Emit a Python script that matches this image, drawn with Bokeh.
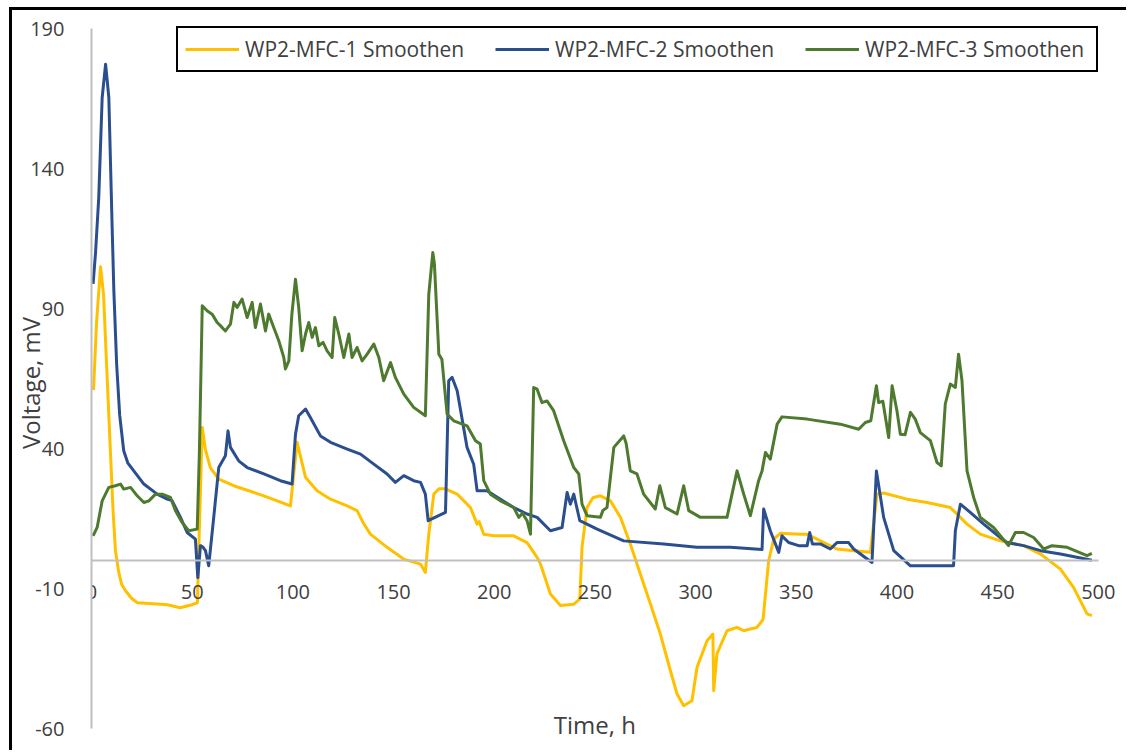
from bokeh.plotting import figure
from bokeh.models import Range1d, FixedTicker, Label, Legend, LegendItem, LinearAxis
from bokeh.embed import file_html
from bokeh.resources import INLINE

# ---------------- data ----------------
t1 = [1, 2.5, 4.5, 6, 7.5, 9.4, 10.7, 11.9, 13.5, 15, 16.9, 20, 22.8, 30.8, 37.7, 44, 50, 52.6,
      53.5, 55, 56.5, 59, 63.2, 70.6, 85.6, 98.8, 102.1, 106.3, 112, 118.7, 127, 131.9, 135,
      138.5, 146.8, 155, 163.4, 165.8, 167.5, 168.3, 170, 172.5, 175.8, 181.6, 188.2, 191.5,
      192.5, 194.8, 199.7, 209.7, 216.3, 221.3, 223, 227.9, 232.9, 239.5, 242.5, 243.6, 246.1,
      249, 252.7, 257.7, 262.7, 267.6, 272.6, 277.6, 282.5, 287.5, 290.8, 294.1, 298.2, 300.7,
      305.7, 308.6, 309, 310.6, 315.6, 320.6, 323.9, 330.5, 333.5, 334.7, 336.3, 338.8, 342.1,
      352, 355.4, 362, 370.2, 378.5, 386.8, 390.1, 393.4, 405, 414.9, 426.5, 429, 434.8, 441.4,
      451.3, 462.9, 471.3, 481.2, 487.7, 494.4, 496.8]
v1 = [61, 85, 105, 95, 70, 39, 18, 3.6, -4, -8.5, -10.7, -13.5, -15, -15.4, -15.7, -16.8, -15.7, -15,
      10, 47.6, 40, 33.3, 29.2, 26.8, 23.2, 19.6, 42.3, 29.8, 25, 22, 19.6, 17.9, 13.5,
      9.5, 4.8, 0.6, -1.2, -4.2, 9.5, 14, 23.8, 25.7, 25.7, 23.8, 19, 13.1,
      14, 9.5, 8.9, 8.9, 6.5, 1.2, -1.2, -11.9, -16, -15.5, -13.7, 4.8, 19,
      22.5, 23.2, 21.4, 15.5, 6, -4.8, -15.5, -26.2, -39.3, -47.6, -51.8, -50, -38.1,
      -28.6, -26.2, -46.4, -33.3, -25, -23.8, -25, -23.8, -21, -12, 0, 7.7, 9.8,
      9.5, 9.5, 7.1, 4.2, 3.6, 3, 23.8, 24.2, 22, 20.8, 19, 17.3, 13.1, 9.5,
      7.1, 5.4, 2.4, -3, -9.5, -19, -19.6]

t2 = [0.8, 2, 3.6, 5.3, 7, 8.6, 10.3, 11.1, 12.5, 14, 16, 18, 21, 26, 32.6, 37.6, 40, 44.2, 47.5,
      51.6, 52.8, 54.1, 55.4, 56.6, 58.2, 60.7, 63.2, 66.5, 67.8, 69, 73.1, 77.3, 85.6, 93.8,
      99.6, 101.3, 102.9, 106.3, 108.7, 113.7, 118.7, 127, 133.6, 140.2, 146.8, 150.9, 155.1,
      160, 163.4, 165.8, 167.2, 172.4, 175.8, 177.4, 179.1, 181.6, 186.5, 189.8, 191.5, 196.4,
      209.7, 216.3, 221.3, 227.9, 233.7, 236.2, 237.8, 239.5, 242.5, 251.1, 264.3, 284.2, 300.7,
      317.3, 333, 333.8, 337.1, 341.3, 342.9, 346.2, 351.2, 355.4, 356.7, 358, 362, 366.9, 370.2,
      376, 378.5, 387.6, 389.8, 393.4, 398.4, 406.7, 414.9, 428.1, 429, 431.5, 436.4, 443.1,
      451.3, 454.6, 462.9, 471.3, 481.2, 496.8]
v2 = [98.9, 110, 129.7, 165.5, 177.4, 165.5, 117.9, 96.4, 70, 52, 39.3, 35, 32.1, 27.4, 23.8, 22, 21.5, 15.5, 10.1,
      7.7, -6, 5.4, 4.8, 3.6, -1.8, 15.5, 33.3, 37.5, 46.4, 40.5, 35.7, 33.3, 31, 28.6,
      27.4, 45.2, 51.8, 54.2, 51.2, 44.6, 42.3, 39.9, 38.1, 34.5, 31, 28, 30.4,
      28.6, 28, 23.8, 14.3, 16.1, 17.3, 64.3, 65.5, 60.7, 40.5, 34.5, 25, 25,
      19, 16.7, 15.5, 10.7, 11.9, 24.4, 20.2, 23.8, 14.3, 11.3, 7.1, 6, 4.8,
      4.8, 4, 18.5, 10.7, 3, 8.9, 6.5, 5.4, 5.4, 10.1, 6, 6, 4.2, 6.5,
      6.5, 4.2, -0.6, 32.1, 15.5, 3.6, -1.8, -1.8, -1.8, 10.7, 20.2, 17.3, 13.1,
      8.3, 6.5, 5.4, 3.6, 2.4, 0.2]

t3 = [0.8, 2.8, 5.3, 8.6, 11.9, 14.4, 16, 19.4, 22.7, 26, 28.5, 31.8, 35.1, 39.2, 41.7, 45, 48.3,
      52.5, 53.6, 55, 57.4, 59.9, 62.4, 64, 66.5, 69, 70.7, 72.3, 74.8, 77.3, 79.8, 81.4, 83.9,
      86.4, 88, 90.5, 93, 95.5, 96.3, 98, 99.5, 101.3, 102.9, 104.6, 106.3, 107.9, 109.6, 111.2,
      112.9, 115, 117, 119.5, 120.8, 122.8, 125.3, 127.8, 129.4, 131.9, 134.4, 136.9, 140.2,
      142.7, 145.1, 148.5, 150.9, 155.1, 160, 165.8, 167.5, 169.5, 170.3, 172.5, 174, 176.6,
      179.9, 186.5, 190.7, 193.1, 194.8, 198.1, 203.1, 209.7, 212.2, 214, 216.3, 218, 219.6,
      221.3, 223.7, 226.2, 229.5, 234.5, 239.5, 242, 243.6, 246.1, 252.7, 254, 256, 259.4,
      264.3, 265.5, 267.6, 270.9, 274.2, 280, 282.2, 285, 290.8, 294.1, 296.6, 302.4, 315.6,
      320.6, 323.9, 327.2, 331.3, 333, 334.7, 337.1, 340.5, 342.9, 355.4, 371.9, 381, 384.3,
      387, 389.8, 390.9, 393, 395.9, 397.6, 400, 401.7, 404, 406.7, 409.1, 411.6, 416.6, 419.9,
      422, 424, 426.5, 429, 430.6, 432.3, 434.8, 438.1, 441.4, 448, 455.4, 458.8, 462.9, 467.9,
      472.9, 477, 484.5, 494.4, 496.8]
v3 = [8.9, 11.9, 21.4, 26.2, 26.8, 27.4, 25.6, 26.2, 23.2, 20.8, 21.4, 23.8, 23.8, 22.6, 17.9, 13.7, 10.7,
      11.3, 39.3, 91.1, 89.3, 88.1, 85.1, 84, 82.1, 84.5, 92.3, 90.5, 93.5, 86.9, 92.3, 83.3, 91.7,
      82.1, 88.1, 83.3, 78.6, 72.6, 68.5, 71.4, 88, 100.6, 90.5, 75, 81, 85.1, 79.8, 83.3,
      76.8, 78, 75, 72.6, 86.9, 81, 72.6, 81, 72.6, 76.2, 71.4, 73.8, 77.4,
      72.6, 64.3, 70.8, 65.5, 59.5, 54.8, 51.8, 95.2, 110.1, 106, 73.8, 72, 52.4,
      50, 48.2, 42.9, 41.7, 28.6, 23.8, 21.4, 19, 15.5, 17, 14.3, 9.5, 61.9,
      61.3, 56.5, 57.1, 53.6, 42.9, 33.3, 31, 20.2, 16.1, 15.5, 18, 19, 40.5,
      44.6, 42, 32.1, 31, 23.8, 18.5, 26.8, 19, 16.7, 26.8, 17.9, 15.5, 15.5,
      32.1, 23.8, 16.1, 28.6, 32.1, 38.7, 36.3, 48.8, 51.4, 50.6, 48.8, 47, 49.4,
      50, 62.5, 56.5, 57, 44, 62.5, 53.6, 45.2, 45, 53, 50.6, 45.8, 42.9, 35.1,
      33.9, 56, 63.1, 61.9, 73.8, 64.3, 32.1, 22.6, 15.5, 11.9, 5.4, 10.1, 10.1, 8.3,
      4.2, 5.4, 4.8, 1.8, 2.6]

series_names = ["WP2-MFC-1 Smoothen", "WP2-MFC-2 Smoothen", "WP2-MFC-3 Smoothen"]
series_colors = ["#FFC000", "#2B4F8E", "#4E7A2F"]
x_ticks = [0, 50, 100, 150, 200, 250, 300, 350, 400, 450, 500]
y_ticks = [-60, -10, 40, 90, 140, 190]

FONT = "Open Sans"
TXT = "#404040"
AXIS_GRAY = "#BFBFBF"

# axes span: y 190 -> 28 px, y -60 -> 728 px, x 0 -> 91 px, x 500 -> 1098 px
p = figure(width=1126, height=750, output_backend="svg", toolbar_location=None,
           x_range=Range1d(0, 514), y_range=Range1d(-66, 193),
           x_axis_location=None, y_axis_location="left",
           min_border_left=91, min_border_right=0, min_border_top=20, min_border_bottom=5)
p.outline_line_color = None
p.border_fill_color = None
p.background_fill_color = "white"
p.xgrid.visible = False
p.ygrid.visible = False
p.styles = {"box-shadow": "inset 9px 7px 0 0 white, inset 12px 10px 0 0 black"}

# y axis
ya = p.yaxis[0]
ya.ticker = FixedTicker(ticks=y_ticks)
ya.bounds = (-60, 190)
ya.major_label_overrides = {t: str(t) for t in y_ticks}
ya.axis_line_color = AXIS_GRAY
ya.axis_line_width = 2
ya.major_tick_line_color = None
ya.minor_tick_line_color = None
ya.major_label_standoff = 21
ya.major_label_text_font = FONT
ya.major_label_text_font_size = "20px"
ya.major_label_text_color = TXT
ya.axis_label = "Voltage, mV"
ya.axis_label_text_font = FONT
ya.axis_label_text_font_size = "24px"
ya.axis_label_text_font_style = "normal"
ya.axis_label_text_color = TXT
ya.axis_label_standoff = -20

# x axis crossing at y = 0
xa = LinearAxis(fixed_location=0, ticker=FixedTicker(ticks=x_ticks), bounds=(0, 500))
xa.axis_line_color = AXIS_GRAY
xa.axis_line_width = 2
xa.major_tick_line_color = None
xa.minor_tick_line_color = None
xa.major_label_standoff = 18
xa.major_label_text_font = FONT
xa.major_label_text_font_size = "20px"
xa.major_label_text_color = TXT
p.add_layout(xa, "below")

renderers = []
for tt, vv, c in zip([t1, t2, t3], [v1, v2, v3], series_colors):
    r = p.line(tt, vv, line_color=c, line_width=3, line_join="round")
    renderers.append(r)

legend = Legend(items=[LegendItem(label=n, renderers=[r]) for n, r in zip(series_names, renderers)],
                orientation="horizontal", location=(85, 673), margin=0,
                padding=7, spacing=26, glyph_width=54, glyph_height=20, label_standoff=6,
                label_width=224,
                label_text_font=FONT, label_text_font_size="21px", label_text_color=TXT,
                border_line_color="black", border_line_width=2.5, border_line_alpha=1.0,
                background_fill_color="white", background_fill_alpha=1.0)
p.add_layout(legend, "center")

p.add_layout(Label(x=250, y=-58.5, text="Time, h", text_align="center", text_baseline="middle",
                   text_font=FONT, text_font_size="24px", text_color=TXT))

open("out.html", "w").write(file_html(p, INLINE))
